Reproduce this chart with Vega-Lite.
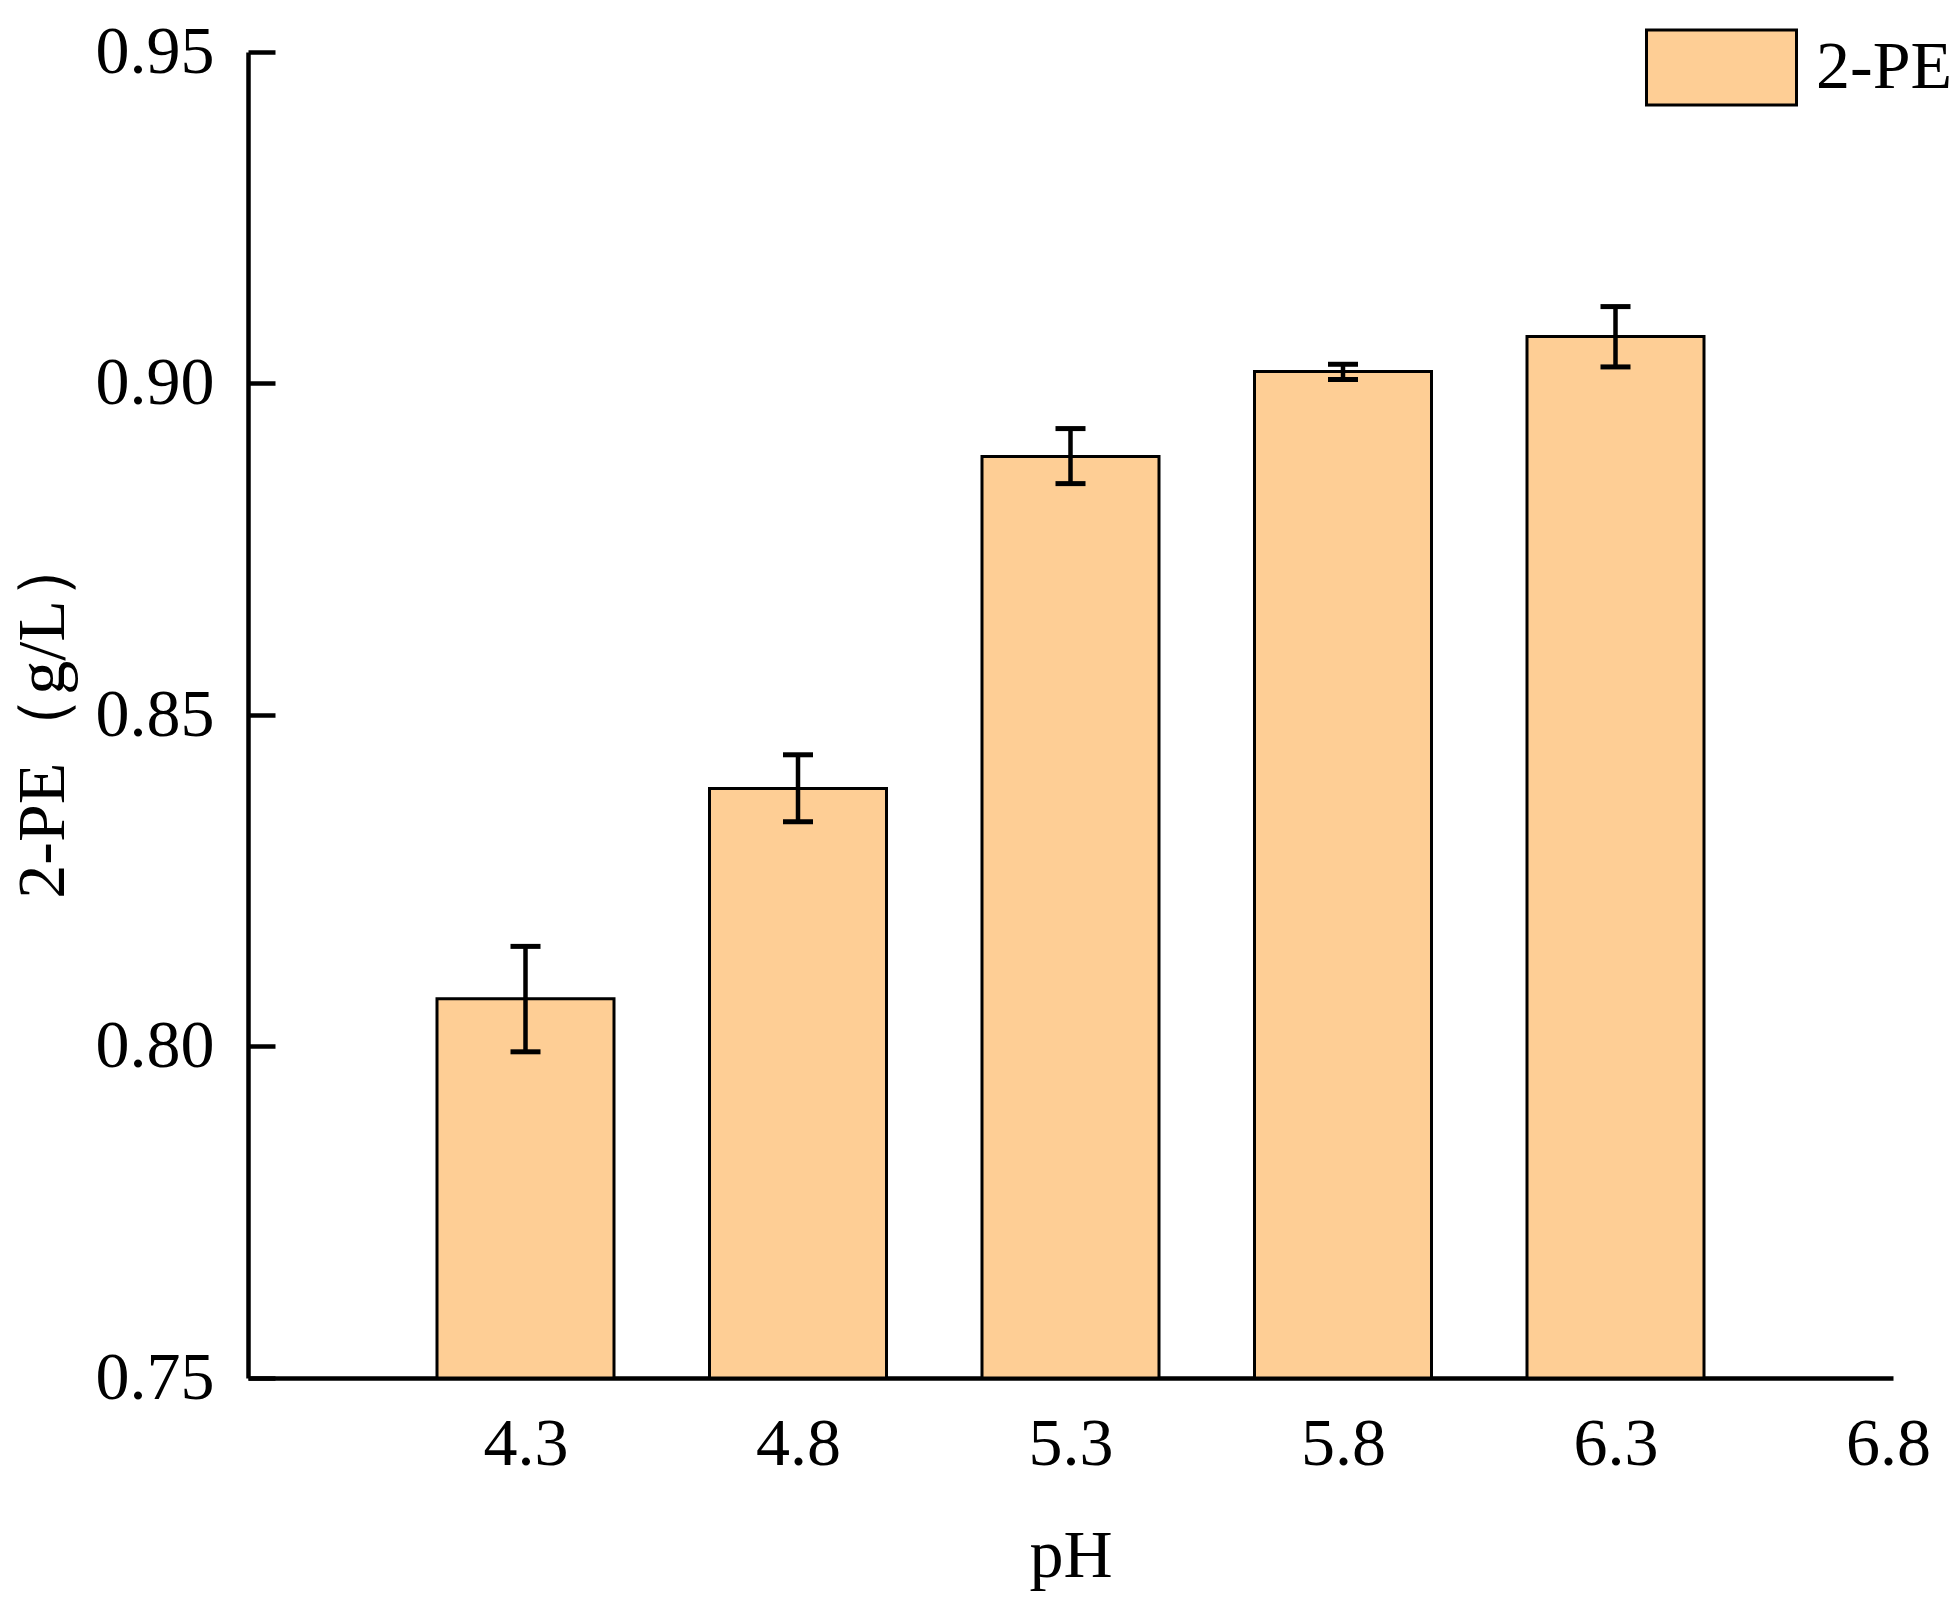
{
  "$schema": "https://vega.github.io/schema/vega-lite/v6.json",
  "autosize": {"type": "none"},
  "padding": {"left": 248, "top": 52, "right": 61, "bottom": 228},
  "width": 1645,
  "height": 1326,
  "background": "white",
  "config": {
    "view": {"stroke": null},
    "font": "Liberation Serif",
    "axis": {
      "labelFont": "Liberation Serif",
      "titleFont": "Liberation Serif",
      "labelFontSize": 68,
      "titleFontSize": 68,
      "labelColor": "black",
      "titleColor": "black",
      "titleFontWeight": "normal",
      "domainColor": "black",
      "domainWidth": 4.5,
      "tickColor": "black",
      "tickWidth": 4.5,
      "grid": false
    },
    "legend": {
      "labelFont": "Liberation Serif",
      "labelFontSize": 68,
      "labelColor": "black"
    }
  },
  "data": {
    "values": [
      {"pH": 4.3, "value": 0.8072, "lower": 0.7992, "upper": 0.8151, "series": "2-PE"},
      {"pH": 4.8, "value": 0.8389, "lower": 0.8339, "upper": 0.8440, "series": "2-PE"},
      {"pH": 5.3, "value": 0.8890, "lower": 0.8849, "upper": 0.8932, "series": "2-PE"},
      {"pH": 5.8, "value": 0.9018, "lower": 0.9006, "upper": 0.9029, "series": "2-PE"},
      {"pH": 6.3, "value": 0.9071, "lower": 0.9025, "upper": 0.9116, "series": "2-PE"}
    ]
  },
  "encoding": {
    "x": {
      "field": "pH",
      "type": "quantitative",
      "title": "pH",
      "scale": {"domain": [3.8, 6.8], "nice": false, "zero": false},
      "axis": {
        "values": [4.3, 4.8, 5.3, 5.8, 6.3, 6.8],
        "format": ".1f",
        "ticks": false,
        "labelPadding": 32,
        "titlePadding": 44,
        "labelFlush": false
      }
    }
  },
  "layer": [
    {
      "mark": {"type": "bar", "width": 177, "stroke": "black", "strokeWidth": 3},
      "encoding": {
        "y": {
          "field": "value",
          "type": "quantitative",
          "title": "2-PE（g/L）",
          "scale": {"domain": [0.75, 0.95], "nice": false, "zero": false},
          "axis": {
            "values": [0.75, 0.8, 0.85, 0.9, 0.95],
            "format": ".2f",
            "tickSize": -27,
            "labelPadding": 61,
            "titlePadding": 18
          }
        },
        "y2": {"datum": 0.75},
        "color": {
          "field": "series",
          "type": "nominal",
          "scale": {"range": ["#FECE95"]},
          "legend": {
            "title": null,
            "orient": "none",
            "legendX": 1397,
            "legendY": -61,
            "symbolType": "M-1,-0.5H1V0.5H-1Z",
            "symbolSize": 22500,
            "symbolStrokeColor": "black",
            "symbolStrokeWidth": 3,
            "symbolFillColor": "#FECE95",
            "symbolOpacity": 1,
            "labelOffset": 18,
            "padding": 0
          }
        }
      }
    },
    {
      "mark": {"type": "rule", "color": "black", "strokeWidth": 4.5},
      "encoding": {
        "y": {"field": "lower", "type": "quantitative"},
        "y2": {"field": "upper"}
      }
    },
    {
      "mark": {"type": "tick", "orient": "horizontal", "color": "black", "size": 30, "thickness": 5, "strokeCap": "round", "opacity": 1},
      "encoding": {
        "y": {"field": "lower", "type": "quantitative"}
      }
    },
    {
      "mark": {"type": "tick", "orient": "horizontal", "color": "black", "size": 30, "thickness": 5, "strokeCap": "round", "opacity": 1},
      "encoding": {
        "y": {"field": "upper", "type": "quantitative"}
      }
    }
  ]
}
